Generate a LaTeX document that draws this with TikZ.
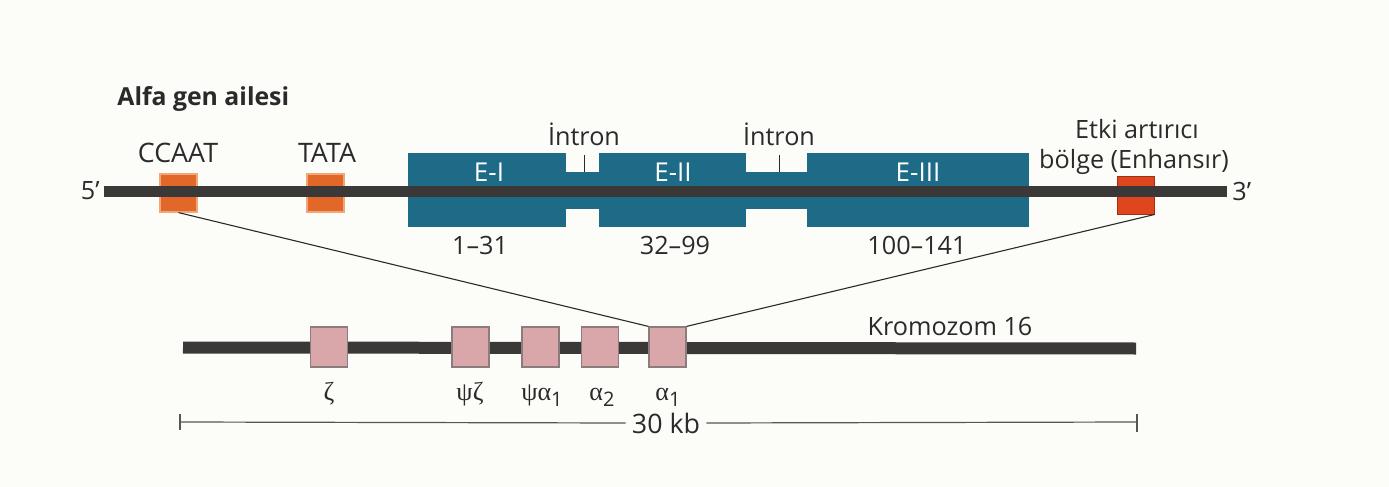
\documentclass[tikz,border=0pt]{standalone}
\usepackage{fontspec}
\setmainfont{Open Sans}
\newfontfamily\grk{Liberation Serif}
\usetikzlibrary{calc}
\definecolor{paper}{HTML}{FCFCF9}
\definecolor{dna}{HTML}{3A3937}
\definecolor{exon}{HTML}{1D6B86}
\definecolor{promo}{HTML}{E2682A}
\definecolor{promoedge}{HTML}{F0A878}
\definecolor{enh}{HTML}{E0461E}
\definecolor{gene}{HTML}{D9A6AA}
\definecolor{geneedge}{HTML}{8C7C7E}
\definecolor{ink}{HTML}{2A2A2A}
\newcommand{\sub}[1]{\raisebox{-0.45ex}{\fontsize{10}{10}\selectfont #1}}
\tikzset{
  txt/.style={font=\fontsize{12.6}{14}\selectfont, text=ink, inner sep=0pt},
  exonbox/.style={fill=exon, draw=none, minimum height=37pt, inner sep=0pt},
  intronbox/.style={fill=exon, draw=none, minimum height=18.5pt, inner sep=0pt},
  promobox/.style={fill=promo, draw=promoedge, line width=0.6pt, minimum width=18.5pt, minimum height=19pt, inner sep=0pt},
  enhbox/.style={fill=enh, draw=enh!70!black, line width=0.5pt, minimum width=18.5pt, minimum height=19pt, inner sep=0pt},
  genebox/.style={fill=gene, draw=geneedge, line width=0.6pt, minimum width=18.5pt, minimum height=20pt, inner sep=0pt},
  exlabel/.style={font=\fontsize{13}{14}\selectfont, text=white, inner sep=0pt},
  grlabel/.style={font=\fontsize{13}{14}\selectfont, text=ink, inner sep=0pt, anchor=base},
  thin/.style={draw=ink, line width=0.55pt},
}
\begin{document}
\begin{tikzpicture}[x=0.5pt,y=-0.5pt]
\fill[paper] (0,0) rectangle (1389,487);
\useasboundingbox (0,0) rectangle (1389,487);

% title
\node[txt, anchor=base west, font=\fontsize{12.4}{14}\bfseries] (title) at (117,105) {Alfa gen ailesi};

% gene body: exons and introns
\node[exonbox, minimum width=79pt]   (e1) at (487,190) {};
\node[intronbox, minimum width=17pt] (i1) at (582.5,190.5) {};
\node[exonbox, minimum width=73.5pt] (e2) at (672.5,190) {};
\node[intronbox, minimum width=31pt] (i2) at (776.5,190.5) {};
\node[exonbox, minimum width=111pt]  (e3) at (918,190) {};

% promoter and enhancer boxes
\node[promobox] (ccaat) at (178.5,193) {};
\node[promobox] (tata)  at (325.5,193) {};
\node[enhbox]   (enhc)  at (1135.5,195) {};

% DNA strand
\coordinate (s5) at (104,191);
\coordinate (s3) at (1227,191);
\draw[dna, line width=5.5pt] (s5) -- (s3);

% exon labels
\node[exlabel] (le1) at (489,172) {E-I};
\node[exlabel] (le2) at (673,172) {E-II};
\node[exlabel] (le3) at (918,172) {E-III};

% codon ranges
\node[txt] (r1) at (480,245) {1–31};
\node[txt] (r2) at (675,245) {32–99};
\node[txt] (r3) at (917,245) {100–141};

% intron labels with ticks
\node[txt, anchor=base] (li1) at (584,145) {İntron};
\node[txt, anchor=base] (li2) at (779,145) {İntron};
\draw[thin, line width=0.5pt] (i1.north -| li1.south) -- ++(0,-17);
\draw[thin, line width=0.5pt] (i2.north -| li2.south) -- ++(0,-17);

% strand ends
\node[txt, anchor=east] (p5) at (100,191) {5’};
\node[txt, anchor=west] (p3) at (1232,191) {3’};

% element labels
\node[txt, anchor=base, font=\fontsize{13.4}{14}\selectfont] (lccaat) at (178,162) {CCAAT};
\node[txt, anchor=base, font=\fontsize{13.4}{14}\selectfont] (ltata)  at (327,162) {TATA};
\node[txt, anchor=base] (lenh1)  at (1137,138) {Etki artırıcı};
\node[txt, anchor=base] (lenh2)  at (1134,168) {bölge (Enhansır)};

% chromosome 16
\coordinate (cL) at (183,347.5);
\coordinate (cR) at (1136,348.5);
\draw[dna, line width=6pt] (cL) -- (cR);
\node[txt, anchor=base] (lchr) at (950,335) {Kromozom 16};

\node[genebox] (zeta)    at (329,347) {};
\node[genebox] (psizeta) at (470.5,347) {};
\node[genebox] (psia1)   at (540.5,347) {};
\node[genebox] (a2)      at (600,347) {};
\node[genebox] (a1)      at (667.5,347) {};

\node[grlabel] (lzeta)    at (329,400)   {{\grk ζ}};
\node[grlabel] (lpsizeta) at (470,400)   {{\grk ψζ}};
\node[grlabel] (lpsia1)   at (542,400)   {{\grk ψα}\sub{1}};
\node[grlabel] (la2)      at (602,400)   {{\grk α}\sub{2}};
\node[grlabel] (la1)      at (668,400)   {{\grk α}\sub{1}};

% expansion lines
\draw[thin] (ccaat.south) -- (a1.north west);
\draw[thin] (enhc.south east) -- (a1.north east);

% scale bar
\coordinate (sbL) at (180,422);
\coordinate (sbR) at (1137,422);
\node[txt, fill=paper, inner xsep=3pt, inner ysep=1pt, font=\fontsize{13.4}{14}\selectfont] (kb) at (666,423) {30 kb};
\draw[draw=ink!80, line width=0.6pt] (sbL) -- (kb.west);
\draw[draw=ink!80, line width=0.6pt] (kb.east) -- (sbR);
\draw[draw=ink!80, line width=0.6pt] ($(sbL)+(0,-8)$) -- ($(sbL)+(0,8)$);
\draw[draw=ink!80, line width=0.6pt] ($(sbR)+(0,-8)$) -- ($(sbR)+(0,10)$);
\end{tikzpicture}
\end{document}
